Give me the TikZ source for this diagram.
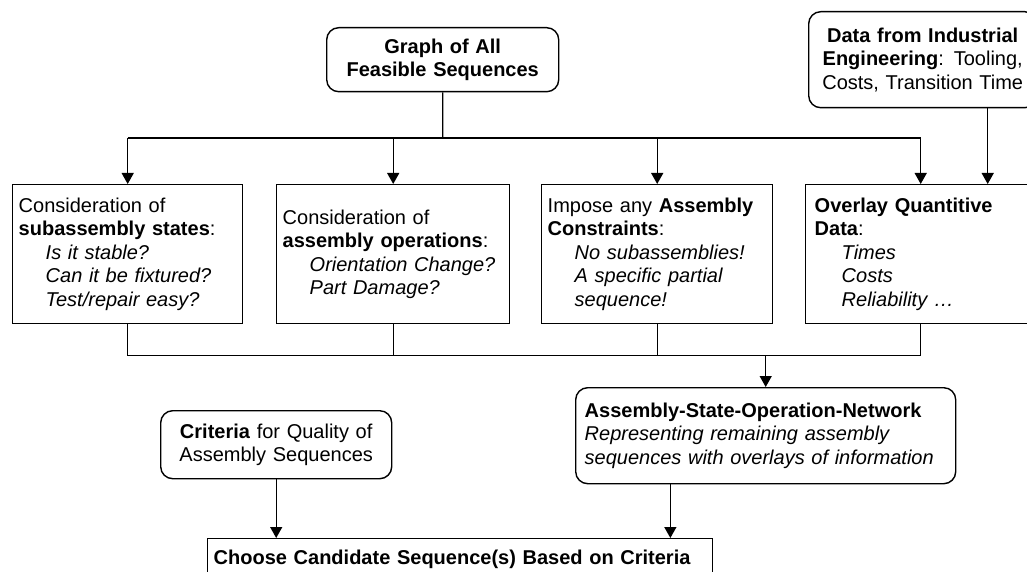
\documentclass[tikz,border=0pt]{standalone}
\usepackage{fontspec}
\setmainfont{Liberation Sans}
\usetikzlibrary{arrows.meta,calc}

\newcommand{\ind}{\hspace*{27pt}}

\begin{document}
\begin{tikzpicture}[x=1pt,y=-1pt]
        \tikzset{
            style box/.style={draw,line width=1.4pt,anchor=north west,inner xsep=6pt,inner ysep=0pt,align=left,font=\fontsize{20}{23.5}\selectfont},
            style round box/.style={style box,rounded corners=12pt},
            style line/.style={line width=1.4pt},
            style arrow/.style={style line,-{Triangle[length=11pt,width=12pt]}}
        };
        \useasboundingbox (0,0) rectangle (1027,572);
        \clip (0,0) rectangle (1027,572);

        \node[style round box,align=center,minimum width=232,minimum height=64,text width=220] (graph) at (326,27)
            {\textbf{Graph of All}\\\textbf{Feasible Sequences}};
        \node[style round box,align=center,minimum width=228,minimum height=96,text width=216] (data) at (808,11)
            {\textbf{Data from Industrial}\\\textbf{Engineering}: Tooling,\\Costs, Transition Time};

        \node[style box,minimum width=230,minimum height=139,text width=218] (subasm) at (12,184)
            {Consideration of\\\textbf{subassembly states}:\\\ind\textit{Is it stable?}\\\ind\textit{Can it be fixtured?}\\\ind\textit{Test/repair easy?}};
        \node[style box,minimum width=233,minimum height=139,text width=221] (operation) at (276,184)
            {Consideration of\\\textbf{assembly operations}:\\\ind\textit{Orientation Change?}\\\ind\textit{Part Damage?}};
        \node[style box,minimum width=231,minimum height=139,text width=219] (constraint) at (541,184)
            {Impose any \textbf{Assembly}\\\textbf{Constraints}:\\\ind\textit{No subassemblies!}\\\ind\textit{A specific partial}\\\ind\textit{sequence!}};
        \node[style box,inner xsep=9pt,minimum width=230,minimum height=139,text width=212] (overlay) at (805,184)
            {\textbf{Overlay Quantitive}\\\textbf{Data}:\\\ind\textit{Times}\\\ind\textit{Costs}\\\ind\textit{Reliability …}};

        \node[style round box,inner xsep=9pt,minimum width=380,minimum height=96,text width=362] (ason) at (575,387)
            {\textbf{Assembly-State-Operation-Network}\\\textit{Representing remaining assembly}\\\textit{sequences with overlays of information}};
        \node[style round box,align=center,minimum width=231,minimum height=68,text width=219] (criteria) at (160,410)
            {\textbf{Criteria} for Quality of\\Assembly Sequences};
        \node[style box,minimum width=505,minimum height=42,text width=493] (choose) at (207,538)
            {\textbf{Choose Candidate Sequence(s) Based on Criteria}};

        \coordinate (top bus) at ($(graph.south)!0.5!(graph.south |- subasm.north)$);
        \draw[style line] (graph.south) -- (top bus);
        \draw[style line] (subasm.north |- top bus) -- (overlay.north |- top bus);
        \draw[style arrow] (subasm.north |- top bus) -- (subasm.north);
        \draw[style arrow] (operation.north |- top bus) -- (operation.north);
        \draw[style arrow] (constraint.north |- top bus) -- (constraint.north);
        \draw[style arrow] (overlay.north |- top bus) -- (overlay.north);

        \coordinate (data out) at ($(data.south)+(65,0)$);
        \draw[style arrow] (data out) -- (data out |- overlay.north);

        \coordinate (low bus) at ($(overlay.south)!0.5!(overlay.south |- ason.north)$);
        \draw[style line] (subasm.south) -- (subasm.south |- low bus) -- (overlay.south |- low bus) -- (overlay.south);
        \draw[style line] (operation.south) -- (operation.south |- low bus);
        \draw[style line] (constraint.south) -- (constraint.south |- low bus);
        \draw[style arrow] (ason.north |- low bus) -- (ason.north);

        \coordinate (ason out) at ($(ason.south west)!0.25!(ason.south east)$);
        \draw[style arrow] (ason out) -- (ason out |- choose.north);
        \draw[style arrow] (criteria.south) -- (criteria.south |- choose.north);
\end{tikzpicture}
\end{document}
